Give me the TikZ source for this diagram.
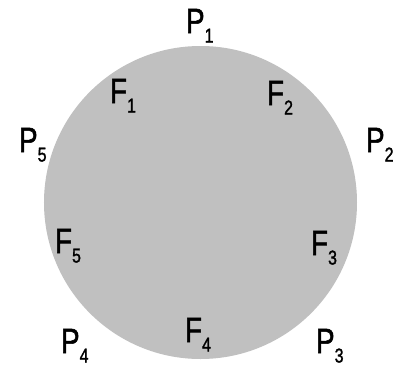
\documentclass[tikz,border=0pt]{standalone}
\usepackage{fontspec}
\setmainfont[FakeBold=1.6]{Liberation Sans}
\newcommand\mylab[2]{\scalebox{0.8}[1]{\fontsize{35bp}{36bp}\selectfont #1\raisebox{-9.5bp}{\fontsize{20bp}{20bp}\selectfont #2}}}
\tikzset{lab/.style={anchor=base west,inner sep=0pt,outer sep=0pt,text=black}}
\begin{document}
\begin{tikzpicture}[x=1bp,y=-1bp]
\useasboundingbox (0,0) rectangle (398,368);
\fill[white] (0,0) rectangle (398,368);
\definecolor{disk}{RGB}{192,192,192}
\node[circle,fill=disk,minimum size=313bp,inner sep=0pt] (disk) at (200.5,202.5) {};
\node[lab] (P1) at (186,33) {\mylab{P}{1}};
\node[lab] (P2) at (366,152) {\mylab{P}{2}};
\node[lab] (P3) at (316,353) {\mylab{P}{3}};
\node[lab] (P4) at (61,353) {\mylab{P}{4}};
\node[lab] (P5) at (19,152) {\mylab{P}{5}};
\node[lab] (F1) at (110,103) {\mylab{F}{1}};
\node[lab] (F2) at (267,105) {\mylab{F}{2}};
\node[lab] (F3) at (311,255) {\mylab{F}{3}};
\node[lab] (F4) at (185,342) {\mylab{F}{4}};
\node[lab] (F5) at (55,253) {\mylab{F}{5}};
\end{tikzpicture}
\end{document}
